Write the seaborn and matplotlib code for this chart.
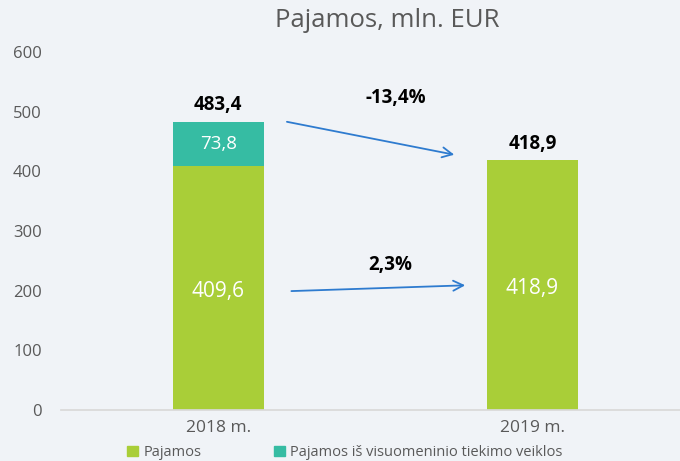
import matplotlib
matplotlib.use("Agg")
import matplotlib.pyplot as plt
import seaborn as sns
import pandas as pd
from matplotlib.patches import Patch

# duomenys
metai = ["2018 m.", "2019 m."]
pajamos = [409.6, 418.9]
viesasis = [73.8, 0.0]
pajamos_lbl = ["409,6", "418,9"]
viesasis_lbl = ["73,8", ""]
viso_lbl = ["483,4", "418,9"]
pokyciai = ["-13,4%", "2,3%"]

green = "#A9CE38"
teal = "#36BCA3"
bg = "#F0F3F7"
grey = "#595959"

sns.set_theme(style="white")
plt.rcParams["font.family"] = ["Open Sans", "DejaVu Sans"]

df = pd.DataFrame({"metai": metai, "pajamos": pajamos, "viesasis": viesasis})
df["viso"] = df["pajamos"] + df["viesasis"]

fig = plt.figure(figsize=(6.8, 4.61), dpi=100, facecolor=bg)
ax = fig.add_axes([0.09, 0.111, 0.91, 0.776])
ax.set_facecolor(bg)

sns.barplot(data=df, x="metai", y="viso", color=teal, width=0.29, saturation=1, linewidth=0, ax=ax)
sns.barplot(data=df, x="metai", y="pajamos", color=green, width=0.29, saturation=1, linewidth=0, ax=ax)

ax.set_ylim(0, 600)
ax.set_xlim(-0.5, 1.47)
ax.set_yticks(range(0, 601, 100))
ax.set_xlabel("")
ax.set_ylabel("")
for s in ["top", "right", "left"]:
    ax.spines[s].set_visible(False)
ax.spines["bottom"].set_color("#D9D9D9")
ax.tick_params(axis="y", colors=grey, labelsize=12, length=0, pad=14)
ax.tick_params(axis="x", colors=grey, labelsize=12.5, length=0, pad=7)

# reikšmės
for i in range(len(metai)):
    ax.text(i, pajamos[i] / 2 - 6, pajamos_lbl[i], ha="center", va="center", color="white", fontsize=15)
    if viesasis[i] > 0:
        ax.text(i, pajamos[i] + viesasis[i] / 2, viesasis_lbl[i], ha="center", va="center",
                color="white", fontsize=13.5)
    ax.text(i, df["viso"][i] + 11, viso_lbl[i], ha="center", va="bottom", color="black",
            fontsize=13.5, fontweight="bold")

# rodyklės
arrow = dict(arrowstyle="->", color="#2E7BCF", lw=1.3, mutation_scale=18)
ax.annotate("", xy=(0.76, 427), xytext=(0.21, 484), arrowprops=arrow)
ax.annotate("", xy=(0.795, 209), xytext=(0.224, 199), arrowprops=arrow)
ax.text(0.565, 523, pokyciai[0], ha="center", va="center", fontsize=13.5, fontweight="bold", color="black")
ax.text(0.548, 243, pokyciai[1], ha="center", va="center", fontsize=13.5, fontweight="bold", color="black")

fig.text(0.57, 0.955, "Pajamos, mln. EUR", ha="center", va="center", fontsize=18.5, color=grey)

# legenda
handles = [Patch(color=green, label="Pajamos"),
           Patch(color=teal, label="Pajamos iš visuomeninio tiekimo veiklos")]
fig.legend(handles=handles, loc="center left", bbox_to_anchor=(0.168, 0.018), ncol=2, frameon=False,
           fontsize=10.5, handlelength=0.7, handleheight=0.7, handletextpad=0.4, columnspacing=5.0,
           labelcolor=grey)

fig.savefig("out.png", dpi=100, facecolor=bg)
